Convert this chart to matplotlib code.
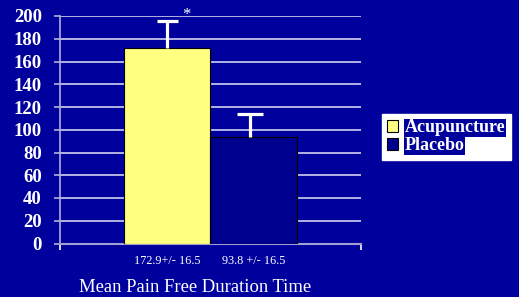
import matplotlib.pyplot as plt
import numpy as np

groups = ["Acupuncture", "Placebo"]
means = [172.2, 93.3]
errors = [23.7, 20.5]
tick_labels = ["172.9+/- 16.5", "93.8 +/- 16.5"]
yticks = [0, 20, 40, 60, 80, 100, 120, 140, 160, 180, 200]

bg = "#00009C"
colors = ["#FFFF80", "#00008E"]

W, H = 519, 297
fig = plt.figure(figsize=(W / 100, H / 100), dpi=100, facecolor=bg)
ax = fig.add_axes([60 / W, (H - 243.5) / H, (361 - 60) / W, (243.5 - 16) / H])
ax.set_facecolor("none")

width = 0.286
pos = np.array([-width / 2, width / 2])
bars = ax.bar(pos, means, width, color=colors, edgecolor="black", linewidth=0.8,
              zorder=3, label=groups)

# one-sided error bars (upper only)
cap_half = [0.036, 0.043]
cap_shift = [0.0, -0.012]
for p, m, e, c, s in zip(pos, means, errors, cap_half, cap_shift):
    ax.vlines(p + s, m, m + e, color="white", linewidth=2.3, zorder=4)
    ax.hlines(m + e, p + s - c, p + s + c, color="white", linewidth=2.3, zorder=4)
ax.text(pos[0] + 0.063, means[0] + errors[0] + 5, "*", color="white",
        fontsize=12, family="Liberation Serif", ha="center", va="center")

ax.set_xlim(-0.5, 0.5)
ax.set_ylim(0, 200)
ax.set_yticks(yticks)
ax.set_yticklabels([str(v) for v in yticks], family="Liberation Serif",
                   fontweight="bold", fontsize=13.5, color="white")
ax.set_xticks(pos)
ax.set_xticklabels(tick_labels, family="Liberation Serif", fontsize=8.8, color="white")
ax.tick_params(axis="x", length=0, pad=8)
ax.set_xticks([-0.5, 0.5], minor=True)
ax.tick_params(axis="x", which="minor", length=4, color="white", width=1.2)
ax.tick_params(axis="y", length=4, color="#B0B0D8", width=1.2, pad=9)

ax.yaxis.grid(True, color="#D0D0F0", linewidth=1.2, zorder=1)
for s in ["top", "right"]:
    ax.spines[s].set_visible(False)
ax.spines["left"].set_color("#B0B0D8")
ax.spines["left"].set_linewidth(1.2)
ax.spines["bottom"].set_color("#A0A0D0")
ax.spines["bottom"].set_linewidth(1.5)

ax.set_xlabel("Mean Pain Free Duration Time", family="Liberation Serif",
              fontsize=13.4, color="white")
ax.xaxis.set_label_coords(0.45, -0.155)

leg = fig.legend(handles=bars.patches, labels=groups, loc="upper left",
                 bbox_to_anchor=(382 / W, (H - 114) / H), frameon=True,
                 fancybox=False, framealpha=1, facecolor="white", edgecolor="white",
                 prop={"family": "Liberation Serif", "weight": "bold", "size": 13},
                 handlelength=0.6, handleheight=0.6, handletextpad=0.35,
                 labelspacing=0.05, borderpad=0.3, borderaxespad=0)
for t in leg.get_texts():
    t.set_color("white")
    t.set_bbox(dict(facecolor=bg, edgecolor="none", pad=0.3))

fig.savefig("out.png", dpi=100, facecolor=bg)
